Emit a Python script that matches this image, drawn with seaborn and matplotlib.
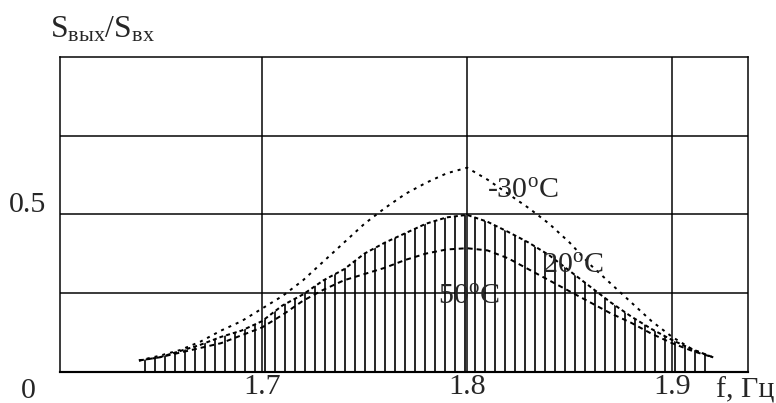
import matplotlib
matplotlib.use("Agg")
import matplotlib.pyplot as plt
import matplotlib.transforms as mtransforms
import seaborn as sns

# frequency, Hz
freq = [1.64, 1.65, 1.66, 1.67, 1.68, 1.69, 1.70, 1.71, 1.72, 1.73,
        1.74, 1.75, 1.76, 1.77, 1.78, 1.79, 1.80, 1.81, 1.82, 1.83,
        1.84, 1.85, 1.86, 1.87, 1.88, 1.89, 1.90, 1.91, 1.92]

# S_out/S_in at -30, 20 and 50 degrees
s_m30 = [0.035, 0.05, 0.068, 0.095, 0.13, 0.16, 0.20, 0.24, 0.29, 0.35,
         0.41, 0.47, 0.52, 0.565, 0.60, 0.63, 0.648, 0.61, 0.565, 0.52,
         0.47, 0.41, 0.34, 0.28, 0.22, 0.16, 0.11, 0.07, 0.045]
s_20 = [0.035, 0.045, 0.065, 0.085, 0.11, 0.13, 0.16, 0.21, 0.245, 0.29,
        0.325, 0.375, 0.41, 0.44, 0.47, 0.49, 0.498, 0.476, 0.444, 0.41,
        0.37, 0.32, 0.27, 0.22, 0.175, 0.135, 0.10, 0.07, 0.045]
s_50 = [0.035, 0.045, 0.06, 0.075, 0.09, 0.115, 0.14, 0.18, 0.225, 0.26,
        0.29, 0.31, 0.33, 0.355, 0.375, 0.388, 0.392, 0.385, 0.36, 0.325,
        0.29, 0.255, 0.22, 0.185, 0.155, 0.12, 0.09, 0.065, 0.045]

x_ticks = [1.7, 1.8, 1.9]
x_tick_labels = ["1.7", "1.8", "1.9"]
y_grid = [0.25, 0.5, 0.75]
y_label_vals = [0.0, 0.5]
y_label_texts = ["0", "0.5"]

DPI = 120
sns.set_theme(style="white")
plt.rcParams["font.family"] = ["Liberation Serif", "DejaVu Serif"]
plt.rcParams["mathtext.fontset"] = "custom"
plt.rcParams["mathtext.rm"] = "Liberation Serif"
plt.rcParams["mathtext.it"] = "Liberation Serif:italic"
plt.rcParams["hatch.linewidth"] = 1.0

fig = plt.figure(figsize=(776 / DPI, 403 / DPI), dpi=DPI)
ax = fig.add_axes([60 / 776, 1 - 371.5 / 403, 688 / 776, 314.5 / 403])

# hatched area under the 20 C curve
ax.fill_between(freq, 0, s_20, facecolor="none", edgecolor="black",
                hatch="||", linewidth=0)

sns.lineplot(x=freq, y=s_m30, ax=ax, color="black", lw=1.2,
             linestyle=(0, (1.5, 2.5)))
sns.lineplot(x=freq, y=s_20, ax=ax, color="black", lw=1.2,
             linestyle=(0, (2, 1.5)))
sns.lineplot(x=freq, y=s_50, ax=ax, color="black", lw=1.2,
             linestyle=(0, (2.5, 2)))

ax.set_xlim(1.6015, 1.937)
ax.set_ylim(0, 1.0)

for v in x_ticks:
    ax.axvline(v, color="black", lw=0.9, zorder=0.5)
for v in y_grid:
    ax.axhline(v, color="black", lw=0.9, zorder=0.5)

for side in ["left", "top", "right"]:
    ax.spines[side].set_color("black")
    ax.spines[side].set_linewidth(0.9)
ax.spines["bottom"].set_color("black")
ax.spines["bottom"].set_linewidth(1.3)

ax.set_xticks(x_ticks)
ax.set_xticklabels(x_tick_labels, fontsize=18)
ax.tick_params(axis="x", length=0, pad=1.2)
ax.set_yticks([])
ax.set_xlabel("")
ax.set_ylabel("")

trans = mtransforms.blended_transform_factory(ax.transAxes, ax.transData)
for v, t in zip(y_label_vals, y_label_texts):
    dy = 2 if v > 0 else -26
    ax.annotate(t, xy=(0, v), xycoords=trans, xytext=(-32, dy),
                textcoords="offset pixels", ha="center", va="baseline",
                fontsize=18, annotation_clip=False)

ax.annotate("f, Гц", xy=(1, 0), xycoords="axes fraction", xytext=(-3, -26),
            textcoords="offset pixels", ha="center", va="baseline",
            fontsize=18, annotation_clip=False)

ax.text(1.8098, 0.5525, r"-30$^{\rm o}$C", fontsize=18, ha="left", va="baseline")
ax.text(1.8366, 0.3137, r"20$^{\rm o}$C", fontsize=18, ha="left", va="baseline")
ax.text(1.7859, 0.215, r"50$^{\rm o}$C", fontsize=18, ha="left", va="baseline")

fig.text(50 / 776, 1 - 37 / 403, r"S$_{\rm вых}$/S$_{\rm вх}$", fontsize=19,
         ha="left", va="baseline")

fig.savefig("out.png", dpi=DPI)
